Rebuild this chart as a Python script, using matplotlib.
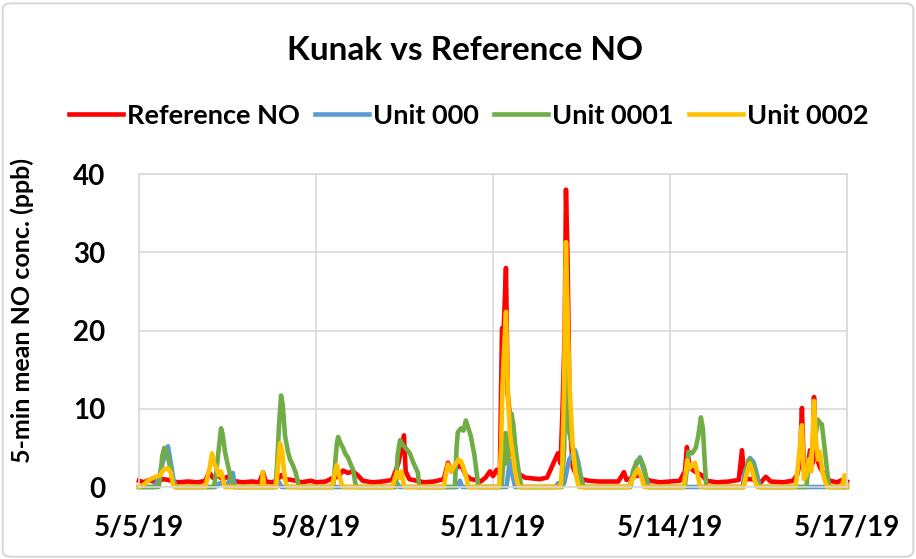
import matplotlib
matplotlib.use('Agg')
from matplotlib import pyplot as plt
from matplotlib.patches import FancyBboxPatch

plt.rcParams['font.family'] = ['Lato', 'DejaVu Sans']
plt.rcParams['font.weight'] = 'bold'

# hours since 5/5/19 00:00
tick_hours = [0, 72, 144, 216, 288]
tick_labels = ['5/5/19', '5/8/19', '5/11/19', '5/14/19', '5/17/19']
y_ticks = [0, 10, 20, 30, 40]

# Reference NO
ref_h = [0, 2, 4, 6, 8, 10, 12, 14, 16, 20, 24, 27, 28.5, 30, 32, 34, 36, 38, 42, 46,
         49, 50.5, 51.5, 54, 56, 57.8, 60, 62, 64, 66, 70, 72, 76, 79, 81, 83, 85, 87, 89, 91,
         95, 99, 103, 105.5, 107.8, 108.5, 110, 113, 116, 120, 124, 125.7, 127, 129, 131, 133, 135, 137, 139, 141,
         142.8, 144, 145.5, 146.8, 147.7, 148.3, 149.3, 150.0, 150.9, 152, 153, 155, 157, 160, 163, 166, 168, 170.4, 171.5, 172.3,
         173.2, 173.7, 174.3, 175.3, 176.5, 178, 180, 183, 187, 191, 195, 197.3, 198.3, 200.5, 203, 206, 208, 212, 216, 220,
         222.1, 222.9, 224, 226, 229, 231, 235, 240, 244, 245.3, 246.3, 249, 251, 253, 255, 257, 262, 266, 267.7, 268.8,
         269.7, 270.5, 272, 273, 274, 274.6, 275.4, 277, 279, 281, 284, 286, 288]
ref_v = [0.8, 0.6, 0.9, 0.7, 0.8, 1.0, 0.9, 0.7, 0.6, 0.7, 0.6, 0.8, 1.9, 1.2, 1.5, 1.0, 1.3, 0.8, 0.6, 0.7,
         0.6, 1.9, 0.7, 0.6, 0.8, 1.5, 1.0, 0.9, 0.8, 0.6, 0.8, 0.6, 0.7, 1.2, 1.3, 2.1, 1.8, 2.0, 1.5, 0.8,
         0.6, 0.7, 0.9, 3.0, 6.6, 2.0, 1.0, 0.8, 0.6, 0.7, 1.0, 3.1, 2.0, 2.4, 2.8, 1.5, 1.0, 0.9, 0.7, 1.2,
         2.0, 1.4, 2.2, 1.5, 20.3, 19.5, 28.0, 12.0, 9.0, 4.0, 1.8, 1.6, 1.2, 1.1, 1.0, 1.2, 2.6, 4.3, 3.0, 9.8,
         20.0, 38.0, 30.0, 8.0, 2.5, 1.5, 1.0, 0.8, 0.7, 0.7, 0.7, 1.9, 0.9, 1.2, 1.5, 1.1, 0.8, 0.6, 0.7, 0.8,
         2.0, 5.1, 2.5, 2.0, 1.5, 0.8, 0.6, 0.7, 0.9, 4.7, 1.0, 1.0, 0.8, 0.6, 1.3, 0.7, 0.6, 0.8, 1.5, 3.0,
         10.1, 2.0, 2.5, 4.7, 3.0, 11.5, 4.0, 2.5, 1.5, 0.8, 0.6, 0.9, 0.7]

# Unit 000
u0_h = [0, 6, 8, 10, 11.8, 13, 14, 15, 31, 33, 36, 38.2, 39, 56, 57, 58, 104, 105, 106,
        129.5, 130.6, 131.5, 149.5, 150.9, 152, 153, 169.5, 170.5, 171.5, 173, 175, 177.4, 178.5, 180, 181,
        199.5, 201, 203.8, 205, 206.5, 207.5, 245.5, 246.5, 248.6, 250, 251.5, 252.5, 288]
u0_v = [0, 0, 1.0, 3.5, 5.2, 3.0, 1.0, 0, 0, 0.5, 0.3, 1.8, 0, 0, 0.6, 0, 0, 0.5, 0,
        0, 0.8, 0, 0, 3.4, 1.5, 0, 0, 0.5, 0, 0.5, 3.5, 4.7, 3.5, 1.0, 0,
        0, 2.0, 3.8, 2.5, 1.0, 0, 0, 2.0, 3.7, 3.2, 1.5, 0, 0]

# Unit 0001
u1_h = [0, 8, 8.5, 9.5, 10.3, 11, 12, 13, 14, 15,
        30.5, 31.5, 32.5, 33.4, 34, 35, 36, 37.5, 38.5,
        55.5, 56.2, 57, 57.8, 58.5, 59.4, 60.6, 61.5, 62.6, 63.8, 64.7, 65.5,
        79, 79.8, 80.5, 81, 82, 83, 84, 85, 86, 87.1, 88, 88.5,
        104.5, 105.2, 106.2, 107, 108.5, 110.2, 111.5, 112.5, 113.5, 114,
        128.5, 129.2, 129.7, 131, 132, 133, 134, 135, 136.5, 137.5, 138,
        147.5, 148.5, 149.1, 149.6, 150.5, 151.5, 152.3, 153, 154, 155, 155.5,
        172, 173, 173.7, 174, 175, 176.5, 178, 179.5, 180.5,
        200, 201, 202.5, 204, 205.5, 206.5, 207,
        222, 222.8, 223.5, 225, 226.5, 227.5, 228.6, 229.4, 230.2, 230.8,
        246, 247, 248, 249.5, 250.5, 251.5, 252,
        271.5, 272.5, 274, 275, 276.2, 277, 277.8, 279.1, 280.3, 281, 288]
u1_v = [0, 0, 1.0, 4.0, 5.0, 4.6, 3.5, 2.0, 0.5, 0,
        0, 2.0, 5.0, 7.5, 6.8, 4.5, 3.0, 1.0, 0,
        0, 3.0, 8.0, 11.7, 10.5, 6.6, 4.5, 3.5, 2.8, 1.8, 0.5, 0,
        0, 3.0, 5.5, 6.4, 5.6, 5.0, 4.2, 3.8, 3.0, 2.2, 0.5, 0,
        0, 4.0, 6.0, 5.5, 5.0, 4.3, 3.2, 2.5, 1.8, 0,
        0, 5.0, 7.0, 7.5, 7.2, 8.5, 7.5, 6.5, 4.0, 1.5, 0,
        0, 4.0, 6.9, 3.0, 5.0, 9.4, 8.0, 5.5, 3.0, 1.0, 0,
        0, 5.0, 28.0, 26.0, 7.0, 5.0, 3.5, 1.5, 0,
        0, 2.0, 3.3, 3.6, 2.5, 1.0, 0,
        0, 2.0, 4.5, 4.3, 5.0, 6.5, 8.9, 7.5, 3.0, 0,
        0, 2.0, 3.5, 3.0, 2.0, 0.5, 0,
        0, 3.0, 5.0, 6.0, 8.6, 8.2, 8.0, 4.5, 1.0, 0, 0]

# Unit 0002
u2_h = [0, 2, 3.7, 6, 8.5, 10, 11.8, 13, 13.8, 14.5,
        27, 27.7, 28.8, 29.7, 30.5, 31.5, 32.5, 33.4, 34.5, 35,
        50, 50.4, 51, 55.8, 56.5, 57.4, 58.3, 59, 59.8, 60.5,
        78.5, 79.7, 80.5, 81.5, 82.5, 83,
        103, 104, 105, 106, 106.8, 107.6, 108,
        124, 124.8, 125.7, 127, 128.5, 130, 131, 132.3, 133.5, 134,
        146.5, 147.3, 147.9, 148.6, 149.3, 150.1, 150.9, 152, 153, 154, 154.5,
        171.5, 172.2, 172.9, 173.7, 174.5, 175.3, 176.5, 177.5, 178.5, 179,
        199.5, 200.5, 202, 203, 204.5, 205.5,
        221.5, 222.5, 223, 224, 225, 226.2, 227.5, 228.3,
        246, 247, 248.5, 249.5, 250.5, 251.5,
        267, 267.7, 268.8, 269.7, 270.5, 271.5, 272.5, 273.5, 274.6, 275.4, 276.2, 277, 278, 279, 280,
        286, 287, 288]
u2_v = [0, 0.3, 0.8, 1.2, 1.5, 2.2, 2.4, 1.8, 0.3, 0,
        0, 1.0, 2.5, 4.3, 3.0, 2.5, 1.5, 2.0, 0.5, 0,
        0, 1.9, 0, 0, 2.5, 5.6, 4.5, 2.0, 0.5, 0,
        0, 1.8, 2.8, 1.5, 0.3, 0,
        0, 1.0, 1.9, 1.2, 2.0, 0.5, 0,
        0, 1.5, 2.9, 2.0, 2.8, 3.5, 3.3, 2.2, 0.8, 0,
        0, 5.0, 13.0, 18.0, 22.4, 12.0, 7.0, 4.4, 2.0, 0.5, 0,
        0, 3.0, 12.0, 31.3, 20.0, 12.0, 5.0, 2.0, 0.5, 0,
        0, 0.8, 1.8, 2.3, 1.2, 0,
        0, 2.0, 3.4, 2.4, 2.8, 3.1, 1.2, 0,
        0, 1.5, 3.0, 2.0, 0.8, 0,
        0, 1.5, 5.0, 7.9, 1.0, 1.5, 3.5, 2.0, 11.0, 6.0, 3.5, 4.5, 2.0, 0.8, 0,
        0, 1.5, 0]

fig = plt.figure(figsize=(9.16, 5.59), dpi=100)
# light grey chart-area border
fig.patches.append(FancyBboxPatch((0.003, 0.004), 0.994, 0.99, boxstyle='round,pad=0,rounding_size=0.01',
                                  transform=fig.transFigure, facecolor='none', edgecolor='#d9d9d9',
                                  lw=1.5, zorder=-1))
ax = fig.add_axes([0.1517, 0.1288, 0.7729, 0.5599])

lw = 3.3
ax.plot(ref_h, ref_v, color='#ff0000', lw=lw, label='Reference NO', clip_on=False, solid_joinstyle='round')
ax.plot(u0_h, u0_v, color='#5b9bd5', lw=lw, label='Unit 000', clip_on=False, solid_joinstyle='round')
ax.plot(u1_h, u1_v, color='#70ad47', lw=lw, label='Unit 0001', clip_on=False, solid_joinstyle='round')
ax.plot(u2_h, u2_v, color='#ffc000', lw=lw, label='Unit 0002', clip_on=False, solid_joinstyle='round')

ax.set_xlim(0, 288)
ax.set_ylim(0, 40)
ax.set_xticks(tick_hours)
ax.set_xticklabels(tick_labels)
ax.set_yticks(y_ticks)
ax.tick_params(axis='both', length=0, labelsize=20)
ax.tick_params(axis='x', pad=20)
ax.tick_params(axis='y', pad=24)
ax.grid(color='#d9d9d9', lw=1.2)
ax.set_axisbelow(True)
for s in ax.spines.values():
    s.set_color('#d9d9d9')
    s.set_linewidth(1.2)

fig.text(0.024, 0.445, '5-min mean NO conc. (ppb)', rotation=90, ha='center', va='center',
         fontsize=18, fontweight='bold')
fig.text(0.508, 0.91, 'Kunak vs Reference NO', ha='center', va='center', fontsize=24, fontweight='bold')
fig.legend(loc='center', bbox_to_anchor=(0.512, 0.793), ncol=4, frameon=False, fontsize=19.5,
           handlelength=2.0, handletextpad=0.15, columnspacing=0.55)

fig.savefig('out.png', dpi=100)
